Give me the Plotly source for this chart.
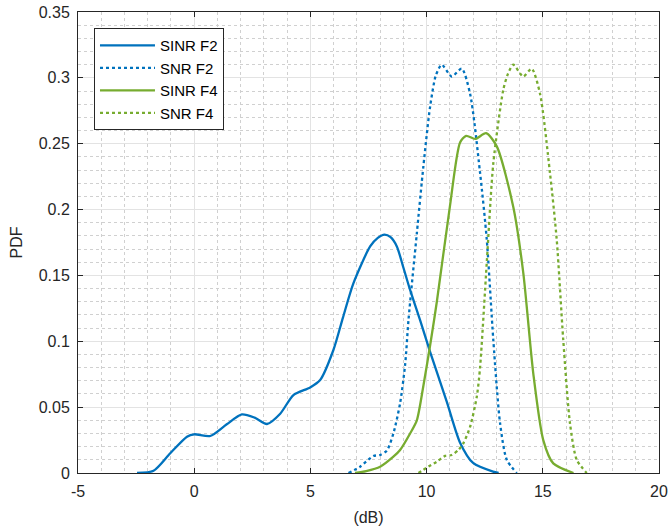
import plotly.graph_objects as go

# SINR F2 (solid blue)
sinr_f2_x = [-2.46, -1.75, -1.03, -0.31, 0.0, 0.69, 1.4, 2.05, 2.6, 3.13, 3.7, 4.27, 4.99, 5.42, 5.99, 6.4, 6.85, 7.57, 7.9, 8.19, 8.45, 8.72, 9.0, 9.29, 9.72, 10.15, 10.87, 11.44, 12.0, 12.86, 13.1]
sinr_f2_y = [0.0, 0.0017, 0.015, 0.0276, 0.0294, 0.0281, 0.037, 0.0445, 0.042, 0.0372, 0.045, 0.0592, 0.065, 0.0706, 0.0934, 0.118, 0.144, 0.172, 0.1785, 0.181, 0.179, 0.172, 0.156, 0.139, 0.116, 0.092, 0.054, 0.023, 0.0076, 0.001, 0.0]

# SNR F2 (dotted blue)
snr_f2_x = [6.64, 7.14, 7.71, 8.0, 8.29, 8.57, 8.86, 9.08, 9.22, 9.58, 9.86, 10.15, 10.4, 10.65, 11.08, 11.51, 11.87, 12.3, 12.59, 12.87, 13.16, 13.45, 13.88]
snr_f2_y = [0.0, 0.0048, 0.0129, 0.0137, 0.017, 0.030, 0.053, 0.083, 0.116, 0.182, 0.2326, 0.278, 0.302, 0.310, 0.301, 0.307, 0.288, 0.228, 0.177, 0.101, 0.038, 0.010, 0.0]

# SINR F4 (solid green)
sinr_f4_x = [6.92, 7.4, 8.0, 8.57, 8.86, 9.29, 9.58, 9.86, 10.18, 10.44, 11.0, 11.44, 11.7, 12.09, 12.56, 13.02, 13.73, 14.16, 14.59, 15.02, 15.45, 16.32]
sinr_f4_y = [0.0, 0.0015, 0.0048, 0.0124, 0.0175, 0.030, 0.040, 0.066, 0.100, 0.130, 0.202, 0.251, 0.256, 0.2536, 0.258, 0.248, 0.202, 0.152, 0.0757, 0.025, 0.0073, 0.0]

# SNR F4 (dotted green)
snr_f4_x = [9.65, 10.0, 10.44, 10.8, 11.08, 11.37, 11.58, 11.87, 12.16, 12.3, 12.59, 12.87, 13.3, 13.5, 13.73, 14.16, 14.52, 14.88, 15.31, 15.6, 15.88, 16.17, 16.46, 16.89]
snr_f4_y = [0.0, 0.004, 0.0086, 0.013, 0.0137, 0.0175, 0.0225, 0.035, 0.058, 0.080, 0.160, 0.235, 0.291, 0.303, 0.310, 0.301, 0.307, 0.288, 0.2276, 0.177, 0.101, 0.0377, 0.010, 0.0]

x_ticks = [-5, 0, 5, 10, 15, 20]
x_tick_labels = ["-5", "0", "5", "10", "15", "20"]
y_ticks = [0, 0.05, 0.1, 0.15, 0.2, 0.25, 0.3, 0.35]
y_tick_labels = ["0", "0.05", "0.1", "0.15", "0.2", "0.25", "0.3", "0.35"]

BLUE = "#0072BD"
GREEN = "#77AC30"
FONT = "Liberation Sans, Arial, sans-serif"

fig = go.Figure()
series = [
    ("SINR F2", sinr_f2_x, sinr_f2_y, BLUE, "solid"),
    ("SNR F2", snr_f2_x, snr_f2_y, BLUE, "dot"),
    ("SINR F4", sinr_f4_x, sinr_f4_y, GREEN, "solid"),
    ("SNR F4", snr_f4_x, snr_f4_y, GREEN, "dot"),
]
for name, xs, ys, col, dash in series:
    fig.add_trace(go.Scatter(
        x=xs, y=ys, mode="lines", name=name,
        line=dict(color=col, width=2.3, dash=dash, shape="spline", smoothing=0.7),
    ))

axis_common = dict(
    showline=True, linecolor="#262626", linewidth=1, mirror="ticks",
    ticks="inside", ticklen=5, tickcolor="#262626",
    showgrid=True, gridcolor="#e3e3e3", gridwidth=1,
    zeroline=False, automargin=False, ticklabeloverflow="allow",
    tickfont=dict(family=FONT, size=16, color="#262626"),
)

fig.update_layout(
    width=670, height=532,
    margin=dict(l=78, r=11, t=12, b=59),
    paper_bgcolor="white", plot_bgcolor="white",
    font=dict(family=FONT, color="#262626"),
    xaxis=dict(
        range=[-5, 20], tickvals=x_ticks, ticktext=x_tick_labels,
        title=dict(text="(dB)", font=dict(size=16), standoff=12),
        minor=dict(dtick=1, showgrid=True, gridcolor="#d0d0d0", griddash="dot", gridwidth=1, ticks=""),
        ticklabelstandoff=4,
        **axis_common,
    ),
    yaxis=dict(
        range=[0, 0.35], tickvals=y_ticks, ticktext=y_tick_labels,
        title=dict(text="PDF", font=dict(size=16), standoff=12),
        minor=dict(dtick=0.01, showgrid=True, gridcolor="#d0d0d0", griddash="dot", gridwidth=1, ticks=""),
        ticklabelstandoff=4,
        **axis_common,
    ),
    legend=dict(
        x=0.0275, y=0.965, xanchor="left", yanchor="top",
        bgcolor="white", bordercolor="#262626", borderwidth=1,
        font=dict(size=15, color="#000000"),
        tracegroupgap=0, itemwidth=55,
    ),
    showlegend=True,
)

fig.write_html("out.html", config={"displayModeBar": False},
               post_script="document.body.style.margin='0';")
